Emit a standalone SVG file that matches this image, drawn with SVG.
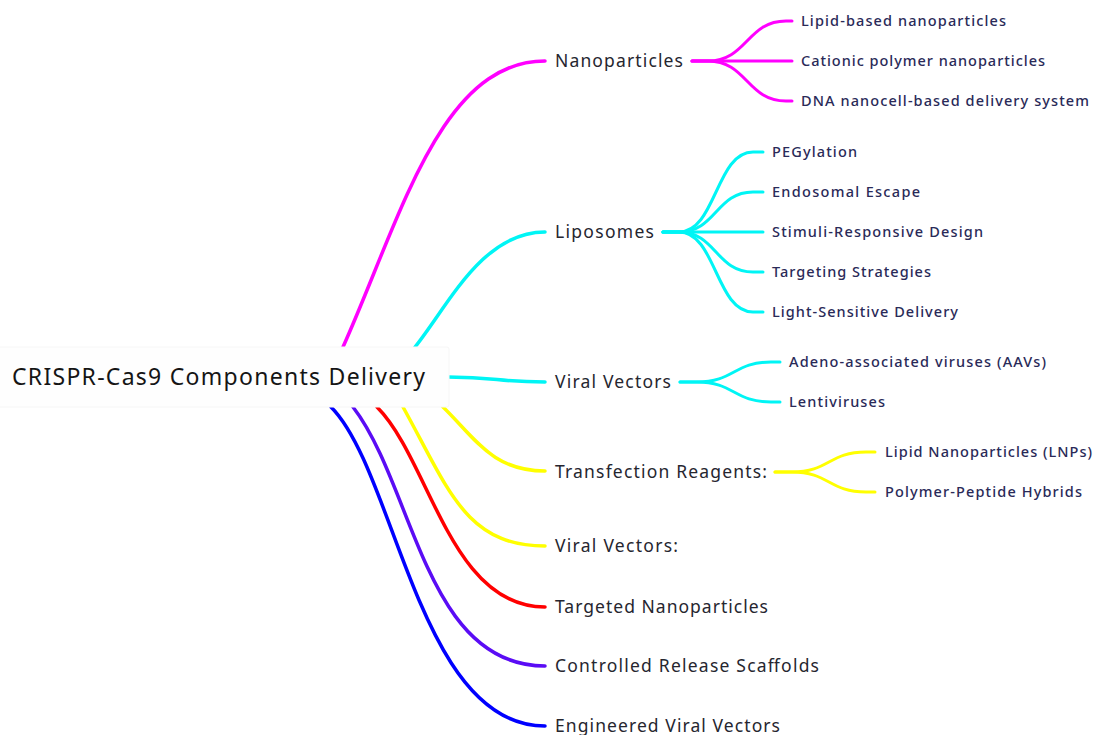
<svg xmlns="http://www.w3.org/2000/svg" width="1094" height="735" viewBox="0 0 1094 735">
<style>
.ln{fill:none;stroke-linecap:round;stroke-linejoin:round}
.m{stroke-width:3.5}
.s{stroke-width:3}
.mag{stroke:#ff00ff}
.cya{stroke:#00f5f5}
.yel{stroke:#ffff00}
.red{stroke:#ff0000}
.pur{stroke:#5a0cf5}
.blu{stroke:#0000ff}
text{font-family:"Noto Sans","DejaVu Sans",sans-serif}
.root{font-size:23px;fill:#151515}
.lv1{font-size:17.5px;fill:#26262f;font-weight:400}
.lv2{font-size:14.5px;fill:#2a2a58;font-weight:500}
</style>
<rect width="1094" height="735" fill="#ffffff"/>
<g id="connectors">
<path class="ln m mag" d="M343,347 C400,220 440,61 545,61"/>
<path class="ln m cya" d="M415,347 C448,306 482,232 545,232"/>
<path class="ln m cya" d="M448,377 C497,377 497,382 545,382"/>
<path class="ln m yel" d="M443,407 C475,438 492,471 545,471"/>
<path class="ln m yel" d="M403,407 C448,488 465,546 545,546"/>
<path class="ln m red" d="M377,407 C430,460 450,607 545,607"/>
<path class="ln m pur" d="M353,407 C414,486 425,666 545,666"/>
<path class="ln m blu" d="M331,407 C396,472 419,726 545,726"/>
<path class="ln s mag" d="M692,61 H708 C747,61 747,21 786,21 H792"/>
<path class="ln s mag" d="M692,61 H792"/>
<path class="ln s mag" d="M692,61 H708 C747,61 747,101 786,101 H792"/>
<path class="ln s cya" d="M663,232 H679 C716,232 716,152 753,152 H763"/>
<path class="ln s cya" d="M663,232 H679 C716,232 716,192 753,192 H763"/>
<path class="ln s cya" d="M663,232 H763"/>
<path class="ln s cya" d="M663,232 H679 C716,232 716,272 753,272 H763"/>
<path class="ln s cya" d="M663,232 H679 C716,232 716,312 753,312 H763"/>
<path class="ln s cya" d="M680,382 H697 C734,382 734,362 771,362 H780"/>
<path class="ln s cya" d="M680,382 H697 C734,382 734,402 771,402 H780"/>
<path class="ln s yel" d="M775,472 H792 C829,472 829,452 866,452 H875"/>
<path class="ln s yel" d="M775,472 H792 C829,472 829,492 866,492 H875"/>
</g>
<g id="root">
<rect x="-2" y="347" width="451" height="60" rx="2" fill="#fefefe" stroke="#f6f6f6" stroke-width="1"/>
<text class="root" x="12" y="385" textLength="413" lengthAdjust="spacing">CRISPR-Cas9 Components Delivery</text>
</g>
<g id="n-nanoparticles"><text class="lv1" x="555" y="67" textLength="128" lengthAdjust="spacing">Nanoparticles</text></g>
<g id="n-liposomes"><text class="lv1" x="555" y="238" textLength="99" lengthAdjust="spacing">Liposomes</text></g>
<g id="n-viral-vectors"><text class="lv1" x="555" y="388" textLength="116" lengthAdjust="spacing">Viral Vectors</text></g>
<g id="n-transfection"><text class="lv1" x="555" y="478" textLength="212" lengthAdjust="spacing">Transfection Reagents:</text></g>
<g id="n-viral-vectors-2"><text class="lv1" x="555" y="552" textLength="123" lengthAdjust="spacing">Viral Vectors:</text></g>
<g id="n-targeted"><text class="lv1" x="555" y="613" textLength="213" lengthAdjust="spacing">Targeted Nanoparticles</text></g>
<g id="n-controlled"><text class="lv1" x="555" y="672" textLength="264" lengthAdjust="spacing">Controlled Release Scaffolds</text></g>
<g id="n-engineered"><text class="lv1" x="555" y="732" textLength="225" lengthAdjust="spacing">Engineered Viral Vectors</text></g>
<g id="c-lipid-based"><text class="lv2" x="801" y="26" textLength="205" lengthAdjust="spacing">Lipid-based nanoparticles</text></g>
<g id="c-cationic"><text class="lv2" x="801" y="66" textLength="244" lengthAdjust="spacing">Cationic polymer nanoparticles</text></g>
<g id="c-dna"><text class="lv2" x="801" y="106" textLength="288" lengthAdjust="spacing">DNA nanocell-based delivery system</text></g>
<g id="c-peg"><text class="lv2" x="772" y="157" textLength="85" lengthAdjust="spacing">PEGylation</text></g>
<g id="c-endosomal"><text class="lv2" x="772" y="197" textLength="148" lengthAdjust="spacing">Endosomal Escape</text></g>
<g id="c-stimuli"><text class="lv2" x="772" y="237" textLength="211" lengthAdjust="spacing">Stimuli-Responsive Design</text></g>
<g id="c-targeting"><text class="lv2" x="772" y="277" textLength="159" lengthAdjust="spacing">Targeting Strategies</text></g>
<g id="c-light"><text class="lv2" x="772" y="317" textLength="186" lengthAdjust="spacing">Light-Sensitive Delivery</text></g>
<g id="c-aav"><text class="lv2" x="789" y="367" textLength="257" lengthAdjust="spacing">Adeno-associated viruses (AAVs)</text></g>
<g id="c-lenti"><text class="lv2" x="789" y="407" textLength="96" lengthAdjust="spacing">Lentiviruses</text></g>
<g id="c-lnp"><text class="lv2" x="885" y="457" textLength="207" lengthAdjust="spacing">Lipid Nanoparticles (LNPs)</text></g>
<g id="c-polymer"><text class="lv2" x="885" y="497" textLength="197" lengthAdjust="spacing">Polymer-Peptide Hybrids</text></g>
</svg>
